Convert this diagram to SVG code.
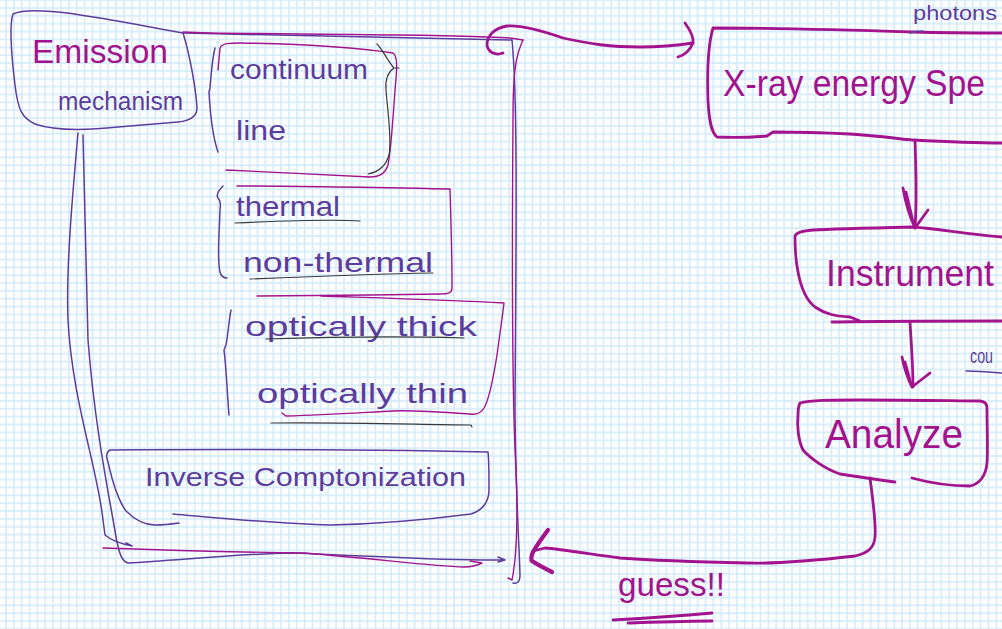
<svg xmlns="http://www.w3.org/2000/svg" width="1002" height="629" viewBox="0 0 1002 629">
<defs>
<pattern id="grid" x="2.07" y="-3.83" width="7.86" height="7.86" patternUnits="userSpaceOnUse">
<rect x="3.13" y="0" width="1.6" height="7.86" fill="#d3eafb"/>
<rect x="0" y="3.13" width="7.86" height="1.6" fill="#d3eafb"/>
</pattern>
<style>
.mg{fill:none;stroke:#a3138e;stroke-width:1.4;stroke-linecap:round;stroke-linejoin:round}
.mgb{fill:none;stroke:#a3138e;stroke-width:2.8;stroke-linecap:round;stroke-linejoin:round}
.mgx{fill:none;stroke:#a3138e;stroke-width:4.2;stroke-linecap:round;stroke-linejoin:round}
.pu{fill:none;stroke:#5c3d9e;stroke-width:1.5;stroke-linecap:round;stroke-linejoin:round}
.bk{fill:none;stroke:#3a3a3a;stroke-width:1.2;stroke-linecap:round;stroke-linejoin:round}
.t{font-family:"Liberation Sans",Arial,sans-serif}
.tp{fill:#5c3d9e}
.tm{fill:#a3138e}
</style>
</defs>
<rect width="1002" height="629" fill="#ffffff"/>
<rect width="1002" height="629" fill="url(#grid)"/>

<g id="emission-mechanism">
<path class="pu" d="M13,14 C25,8 60,11 100,18 C130,23 160,29 183,33 C190,55 196,90 197,108 C197,118 188,121 178,122 L118,127 C90,130 55,131 35,124 C22,118 18,110 15,85 C12,60 9,25 13,14 Z"/>
<text class="t tm" x="32" y="63" font-size="34" textLength="136" lengthAdjust="spacingAndGlyphs">Emission</text>
<text class="t tp" x="58" y="110" font-size="25" textLength="125" lengthAdjust="spacingAndGlyphs">mechanism</text>
</g>

<g id="container">
<path class="pu" d="M183,33 C300,36 420,38 512,40"/>
<path class="mg" d="M183,32 C220,34 250,33 300,34 C400,35 470,35 510,38 L523,40"/>
<path class="pu" d="M512,40 C518,100 516,250 515,400 C515,480 519,540 520,575 C520,582 517,584 513,583"/>
<path class="mg" d="M523,40 C516,55 513,70 513,120 C512,250 512,400 516,470 C518,520 516,560 512,580 L508,578"/>
<path class="pu" d="M78,133 C72,200 66,270 68,320 C72,400 98,470 103,520 L105,535 C112,541 122,544 132,546 M126,543 L132,546"/>
<path class="pu" d="M83,135 C85,200 86,280 88,340 C95,430 110,500 116,537 C119,552 121,561 128,563 C180,560 240,554 290,553 C380,556 440,561 505,560 M498,557 L505,560 L498,562"/>
<path class="mg" d="M103,548 C160,550 230,552 304,553 C380,559 430,566 464,567 C472,567 478,565 482,563 L470,561"/>
</g>

<g id="continuum-line">
<path class="mg" d="M220,48 C222,43 230,43 240,43 C300,44 360,48 393,53 C398,56 397,70 395,90 C393,120 391,150 388,165 C385,175 378,177 370,177 C330,175 270,172 226,170 M220,48 L218,70"/>
<path class="bk" d="M377,44 C383,50 387,60 394,68 L399,68 M394,68 C388,72 385,78 386,90 C388,115 392,140 389,155 C386,166 378,172 368,174"/>
<path class="pu" d="M215,48 C212,60 211,75 210,88 L209,92 C210,110 212,135 218,152"/>
<text class="t tp" x="230" y="79" font-size="28" textLength="138" lengthAdjust="spacingAndGlyphs">continuum</text>
<text class="t tp" x="236" y="140" font-size="28" textLength="50" lengthAdjust="spacingAndGlyphs">line</text>
</g>

<g id="thermal-nonthermal">
<path class="mg" d="M237,186 C300,186 400,188 450,189 C451,220 452,260 452,288 C452,293 448,294 440,294 C380,295 300,296 257,296"/>
<path class="pu" d="M223,186 C219,190 216,195 218,198 C220,200 221,203 220,210 C219,240 217,260 220,272 C221,276 224,278 227,278"/>
<text class="t tp" x="236" y="216" font-size="28" textLength="104" lengthAdjust="spacingAndGlyphs">thermal</text>
<text class="t tp" x="243" y="272" font-size="28" textLength="190" lengthAdjust="spacingAndGlyphs">non-thermal</text>
<path class="bk" d="M235,223 C280,221 330,219 360,221"/>
<path class="bk" d="M250,279 C300,277 380,274 433,273"/>
</g>

<g id="optically-thick-thin">
<path class="mg" d="M321,296 C380,298 450,300 504,303 C502,320 499,340 497,355 C493,380 489,400 484,408 C481,413 476,415 470,414 C440,412 410,410 393,411 C370,412 330,415 286,416 L282,413"/>
<path class="pu" d="M231,310 C229,320 228,335 226,345 L224,350 C226,365 227,390 229,415"/>
<text class="t tp" x="245" y="336" font-size="28" textLength="232" lengthAdjust="spacingAndGlyphs">optically thick</text>
<text class="t tp" x="257" y="403" font-size="28" textLength="211" lengthAdjust="spacingAndGlyphs">optically thin</text>
<path class="bk" d="M266,339 C330,337 400,336 464,338"/>
<path class="bk" d="M271,423 C330,422 400,424 471,425 L472,427"/>
</g>

<g id="inverse-comptonization">
<path class="pu" d="M173,514 C230,519 280,524 330,525 C380,524 440,518 471,514 C484,510 489,500 489,490 C489,470 489,460 488,452 C400,450 250,449 110,450 C106,452 106,458 108,462 C112,480 118,500 126,511 C135,520 145,525 155,525 C165,525 172,524 179,523"/>
<text class="t tp" x="145" y="486" font-size="26" textLength="321" lengthAdjust="spacingAndGlyphs">Inverse Comptonization</text>
</g>

<g id="xray-energy-spectrum">
<path class="mgb" d="M1002,33 C980,33 950,33 913,32 C850,30 780,28 713,28 C708,45 707,70 708,100 C709,120 711,132 717,137 C735,138 755,137 767,136 L773,132 C800,132 830,133 850,134 C880,136 900,139 913,140 C950,142 980,143 1002,143"/>
<text class="t tm" x="723" y="96" font-size="36" textLength="262" lengthAdjust="spacingAndGlyphs">X-ray energy Spe</text>
</g>

<g id="photons-label">
<text class="t tp" x="913" y="20" font-size="21" textLength="84" lengthAdjust="spacingAndGlyphs">photons</text>
<path class="pu" d="M910,33 C913,32 918,31 923,31"/>
</g>

<g id="instrument">
<path class="mgb" d="M1002,237 C970,235 940,229 913,227 C870,228 830,229 813,230 C800,231 796,233 795,236 C795,250 796,262 798,272 C801,288 806,300 815,307 C825,314 835,316 850,317 L860,321 M832,322 C880,321 950,321 1002,321"/>
<text class="t tm" x="826" y="286" font-size="37" textLength="168" lengthAdjust="spacingAndGlyphs">Instrument</text>
</g>

<g id="counts-label">
<text class="t tp" x="970" y="363" font-size="21" textLength="23" lengthAdjust="spacingAndGlyphs">cou</text>
<path class="pu" d="M966,371 C980,371 990,372 1002,373"/>
</g>

<g id="analyze">
<path class="mgb" d="M800,403 C810,400 830,400 860,400 C920,400 960,401 980,401 C986,402 987,404 987,410 C987,430 988,450 987,463 C986,475 980,484 970,486 C950,486 930,483 912,478 M895,482 C880,480 860,477 840,474 C825,469 810,458 803,450 C798,440 797,425 798,415 C798,408 799,405 800,403"/>
<text class="t tm" x="825" y="448" font-size="40" textLength="138" lengthAdjust="spacingAndGlyphs">Analyze</text>
</g>

<g id="connectors">
<path class="mgb" d="M503,53 C495,56 488,52 487,45 C487,35 495,28 507,26 C520,25 540,30 563,38 C590,44 610,47 640,47 C660,47 680,45 693,43"/>
<path class="mgb" d="M685,23 C690,30 694,38 693,43 C690,50 685,55 678,57"/>
<path class="mgb" d="M915,140 C916,170 917,200 915,228"/>
<path class="mgb" d="M903,188 C905,200 909,215 915,228 L928,210 M906,192 L914,226"/>
<path class="mgb" d="M910,322 C911,340 913,365 913,387"/>
<path class="mgb" d="M902,357 C904,367 907,377 912,387 L930,373 M905,362 L911,384"/>
<path class="mgb" d="M870,478 C873,500 876,525 875,537 C874,548 868,553 855,556 C820,560 780,564 747,563 C700,562 647,560 620,558 C590,554 560,549 545,548 L533,551"/>
<path class="mgx" d="M548,530 C542,538 537,545 533,552 C531,556 531,560 532,561 C538,565 546,569 552,572"/>
</g>

<g id="guess-label">
<text class="t tm" x="618" y="596" font-size="33" textLength="107" lengthAdjust="spacingAndGlyphs">guess!!</text>
<path class="mgb" d="M613,620 C650,618 690,615 712,613"/>
<path class="mgb" d="M628,623 C660,622 690,621 712,621"/>
</g>
</svg>
